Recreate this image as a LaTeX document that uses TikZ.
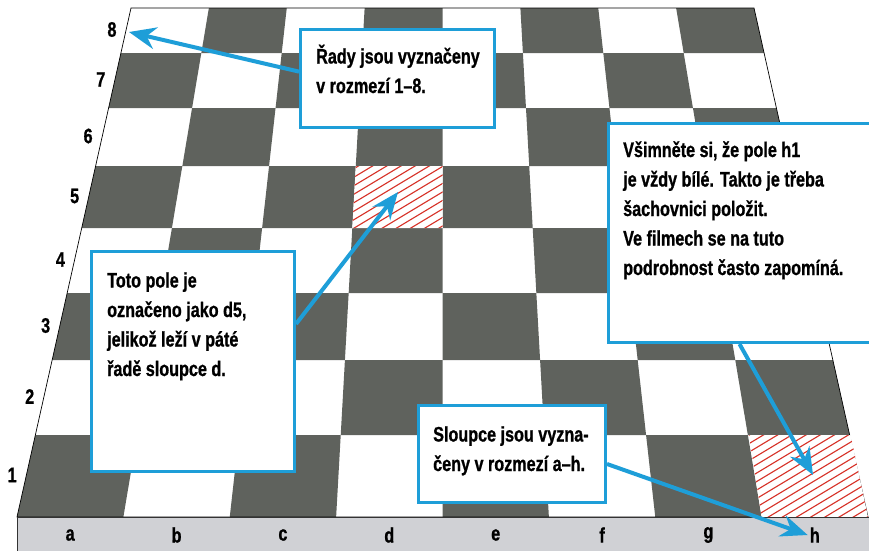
\documentclass[tikz,border=0pt]{standalone}
\usepackage{fontspec}
\newfontfamily\boldnarrow{Liberation Sans Bold}[FakeStretch=0.77, FakeBold=0.9]
\usepackage{tikz}
\usetikzlibrary{arrows.meta}

\definecolor{squaregray}{RGB}{95,98,93}
\definecolor{noteblue}{RGB}{30,158,216}
\definecolor{stripgray}{RGB}{208,209,213}
\definecolor{hatchred}{RGB}{215,50,40}

\begin{document}
\begin{tikzpicture}[x=1pt, y=-1pt,
    darksq/.style={fill=squaregray},
    hatch/.style={draw=hatchred, line width=1.1pt},
    notebox/.style={draw=noteblue, line width=3pt, fill=white, rectangle, inner sep=0pt, anchor=north west},
    % base of a multi-line node is its last line
    notetext/.style={anchor=base west, align=left, inner sep=0pt, font=\boldnarrow\fontsize{21}{29.5}\selectfont},
    boardlabel/.style={inner sep=2pt, font=\boldnarrow\fontsize{21}{24}\selectfont},
    pointer/.style={draw=noteblue, line width=4pt, -{Stealth[length=27pt, width=22pt, inset=9pt]}}]
	\useasboundingbox (0,0) rectangle (869,550);

	% Board squares, row by row from rank 8 down
	\foreach \yt/\yb [count=\r] in {8/53,53/108,108/166,166/228,228/293,293/360,360/435,435/517}{
		\pgfmathsetmacro\xa{131-0.22397*(\yt-8)}
		\pgfmathsetmacro\xb{754+0.22397*(\yt-8)}
		\pgfmathsetmacro\xc{131-0.22397*(\yb-8)}
		\pgfmathsetmacro\xd{754+0.22397*(\yb-8)}
		\foreach \c in {0,...,7}{
			\pgfmathtruncatemacro\dark{mod(\r+\c,2)}
			\ifnum\dark=0
				\fill[darksq] ({\xa+\c*(\xb-\xa)/8},\yt) -- ({\xa+(\c+1)*(\xb-\xa)/8},\yt)
					-- ({\xc+(\c+1)*(\xd-\xc)/8},\yb) -- ({\xc+\c*(\xd-\xc)/8},\yb) -- cycle;
			\fi
		}
		\pgfmathtruncatemacro\rk{9-\r}
		\node[boardlabel] (rank\rk) at ({(\xa+\xc)/2-14},{(\yt+\yb)/2-1}) {\rk};
	}
	\draw[line width=0.7pt] (131,8) -- (754,8) -- (868,517) -- (17,517) -- cycle;

	% Hatched squares d5 and h1
	\begin{scope}
		\clip (355.8,166) -- (442.5,166) -- (442.5,228) -- (352.3,228) -- cycle;
		\fill[white] (340,150) rectangle (460,240);
		\foreach \k in {0,...,17}
			\draw[hatch] (340,{160+\k*8.5}) -- ++(120,-72);
	\end{scope}
	\begin{scope}
		\clip (748.8,435) -- (850.6,435) -- (868,517) -- (761.6,517) -- cycle;
		\fill[white] (740,430) rectangle (870,520);
		\foreach \k in {0,...,20}
			\draw[hatch] (740,{432+\k*8.5}) -- ++(140,-84);
	\end{scope}

	% File strip
	\filldraw[fill=stripgray, draw=black!80, line width=0.8pt] (17,517) rectangle (872,553);
	\foreach \l [count=\i from 0] in {a,b,c,d,e,f,g,h}
		\node[boardlabel] (col\l) at ({17+106.375*(\i+0.5)},535) {\l};

	% Notes
	\node[notebox, minimum width=194pt, minimum height=98pt] (rady) at (299,28) {};
	\node[notetext] (radytext) at ([xshift=17pt, yshift=-65pt]rady.north west) {Řady jsou vyznačeny\\v rozmezí 1–8.};

	\node[notebox, minimum width=203pt, minimum height=220pt] (pole) at (90,250) {};
	\node[notetext] (poletext) at ([xshift=17pt, yshift=-126pt]pole.north west) {Toto pole je\\označeno jako d5,\\jelikož leží v páté\\řadě sloupce d.};

	\node[notebox, minimum width=262pt, minimum height=219pt] (vsimnete) at (607,122) {};
	\node[notetext] (vsimnetetext) at ([xshift=16pt, yshift=-153pt]vsimnete.north west) {Všimněte si, že pole h1\\je vždy bílé. Takto je třeba\\šachovnici položit.\\Ve filmech se na tuto\\podrobnost často zapomíná.};

	\node[notebox, minimum width=187pt, minimum height=97pt] (sloupce) at (417,404) {};
	\node[notetext] (sloupcetext) at ([xshift=16pt, yshift=-67pt]sloupce.north west) {Sloupce jsou vyzna-\\čeny v rozmezí a–h.};

	% Pointers
	\coordinate (a8corner) at (129,32);
	\coordinate (d5mid) at (398,192);
	\coordinate (h1mid) at (813,475);
	\draw[pointer] (rady.176) -- (a8corner);
	\draw[pointer] (pole.20) -- (d5mid);
	\draw[pointer] (vsimnete.south) -- (h1mid);
	\draw[pointer] (sloupce.-6) -- (colh.west);
\end{tikzpicture}
\end{document}
